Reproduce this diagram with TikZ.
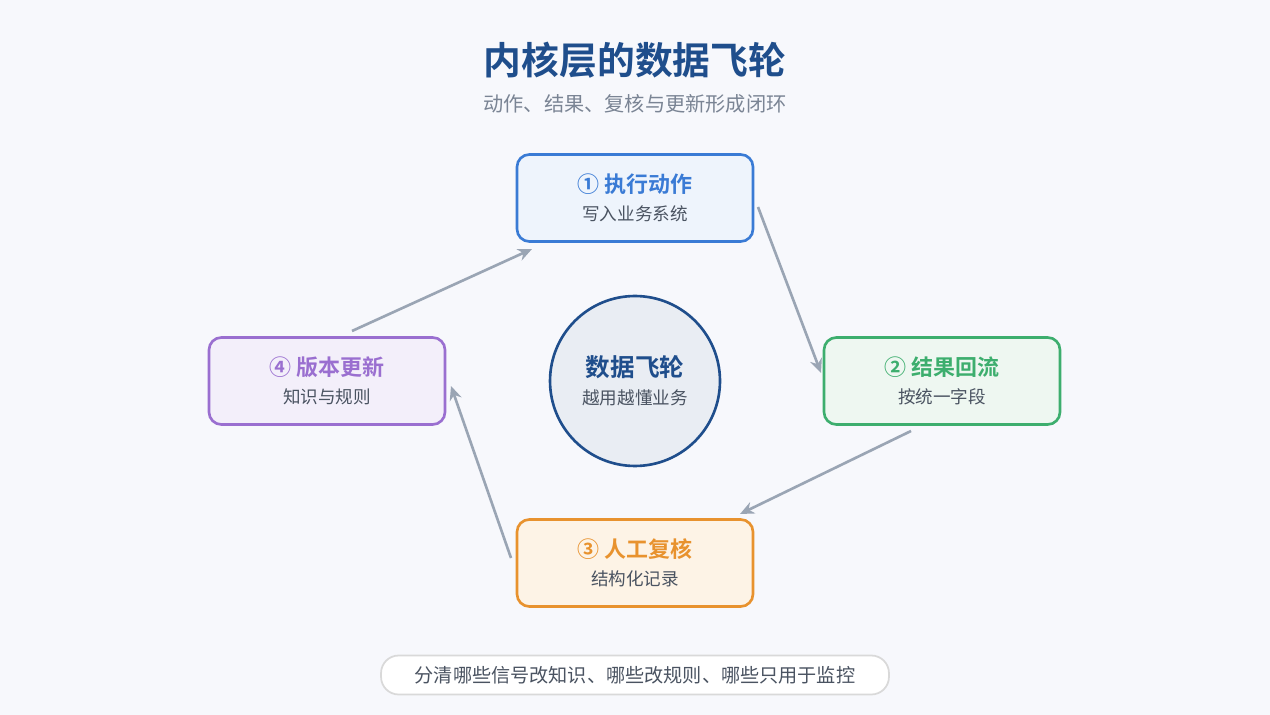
\documentclass[tikz,border=0pt]{standalone}
\usepackage{fontspec}
\setmainfont{Noto Sans CJK SC}[BoldFont={Noto Sans CJK SC Bold}]
\usetikzlibrary{arrows.meta}
\definecolor{bg}{HTML}{F7F8FC}
\definecolor{navy}{HTML}{1F4E8C}
\definecolor{sub}{HTML}{7A8494}
\definecolor{txt}{HTML}{4A5361}
\definecolor{arr}{HTML}{9AA5B4}
\definecolor{bB}{HTML}{3A7BD5}\definecolor{fB}{HTML}{EEF4FC}
\definecolor{bG}{HTML}{3DAE6E}\definecolor{fG}{HTML}{EEF7F1}
\definecolor{bO}{HTML}{E8922E}\definecolor{fO}{HTML}{FDF3E6}
\definecolor{bP}{HTML}{9A6FD0}\definecolor{fP}{HTML}{F3EFFA}
\begin{document}
\begin{tikzpicture}[x=0.02cm,y=-0.02cm,
 step/.style={draw=#1,line width=1.5pt,rounded corners=7pt,minimum width=4.72cm,minimum height=1.74cm,align=center},
 conn/.style={draw=arr,line width=1.5pt,-{Stealth[length=8pt,width=7pt]}}]
\fill[bg] (0,0) rectangle (1270,715);
\useasboundingbox (0,0) rectangle (1270,715);
\node[text=navy,font=\bfseries\fontsize{21.5}{25}\selectfont] (title) at (635,60) {内核层的数据飞轮};
\node[text=sub,font=\fontsize{11.5}{14}\selectfont] (subt) at (635,104) {动作、结果、复核与更新形成闭环};
\node[step=bB,fill=fB] (s1) at (635,198) {\textcolor{bB}{\bfseries\fontsize{12.5}{15}\selectfont ① 执行动作}\\[4pt]\textcolor{txt}{\fontsize{10}{12}\selectfont 写入业务系统}};
\node[step=bG,fill=fG] (s2) at (942,381) {\textcolor{bG}{\bfseries\fontsize{12.5}{15}\selectfont ② 结果回流}\\[4pt]\textcolor{txt}{\fontsize{10}{12}\selectfont 按统一字段}};
\node[step=bO,fill=fO] (s3) at (635,563) {\textcolor{bO}{\bfseries\fontsize{12.5}{15}\selectfont ③ 人工复核}\\[4pt]\textcolor{txt}{\fontsize{10}{12}\selectfont 结构化记录}};
\node[step=bP,fill=fP] (s4) at (327,381) {\textcolor{bP}{\bfseries\fontsize{12.5}{15}\selectfont ④ 版本更新}\\[4pt]\textcolor{txt}{\fontsize{10}{12}\selectfont 知识与规则}};
\node[circle,draw=navy,fill=navy!10,line width=1.5pt,minimum size=3.4cm,align=center] (hub) at (635,381) {\textcolor{navy}{\bfseries\fontsize{14}{17}\selectfont 数据飞轮}\\[4pt]\textcolor{txt}{\fontsize{10}{12}\selectfont 越用越懂业务}};
\coordinate (a1) at (758,207); \coordinate (a1e) at (821,373);
\coordinate (a2) at (911,431); \coordinate (a2e) at (740,514);
\coordinate (a3) at (511,558); \coordinate (a3e) at (451,386);
\coordinate (a4) at (352,331); \coordinate (a4e) at (532,249);
\draw[conn] (a1)--(a1e);
\draw[conn] (a2)--(a2e);
\draw[conn] (a3)--(a3e);
\draw[conn] (a4)--(a4e);
\node[draw=black!15,fill=white,line width=1pt,rounded corners=10pt,minimum width=10.16cm,minimum height=0.78cm,text=txt,font=\fontsize{10.9}{13}\selectfont] (note) at (635,675) {分清哪些信号改知识、哪些改规则、哪些只用于监控};
\end{tikzpicture}
\end{document}
